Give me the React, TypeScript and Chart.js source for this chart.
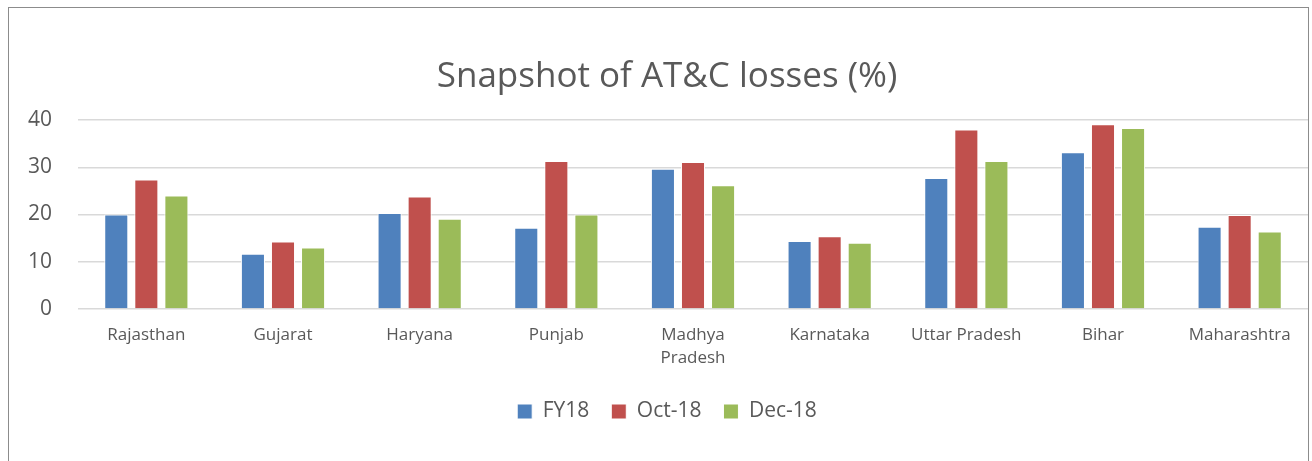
import React, { useEffect, useRef } from "react";
import { Chart, registerables } from "chart.js";

Chart.register(...registerables);

const categories: (string | string[])[] = [
  "Rajasthan",
  "Gujarat",
  "Haryana",
  "Punjab",
  ["Madhya", "Pradesh"],
  "Karnataka",
  "Uttar Pradesh",
  "Bihar",
  "Maharashtra",
];
const fy18 = [20.0, 11.7, 20.3, 17.2, 29.7, 14.4, 27.7, 33.2, 17.4];
const oct18 = [27.4, 14.3, 23.8, 31.3, 31.1, 15.4, 38.0, 39.1, 19.9];
const dec18 = [24.0, 13.0, 19.1, 20.0, 26.2, 14.0, 31.3, 38.3, 16.4];
const seriesNames = ["FY18", "Oct-18", "Dec-18"];
const yTicks = [0, 10, 20, 30, 40];

const FONT = "'Open Sans', 'Liberation Sans', sans-serif";
const TEXT = "#595959";

export default function App() {
  const ref = useRef<HTMLCanvasElement | null>(null);
  useEffect(() => {
    if (!ref.current) return;
    const colors = ["#4F81BD", "#C0504D", "#9BBB59"];
    const values = [fy18, oct18, dec18];
    const chart = new Chart(ref.current, {
      type: "bar",
      data: {
        labels: categories,
        datasets: values.map((v, i) => ({
          label: seriesNames[i],
          data: v,
          backgroundColor: colors[i],
          borderColor: "#ffffff",
          borderWidth: 1,
          categoryPercentage: 0.66,
          barPercentage: 0.8,
        })),
      },
      options: {
        animation: false,
        responsive: false,
        maintainAspectRatio: false,
        layout: { padding: { top: 40, left: 17, right: 0, bottom: 29 } },
        plugins: {
          title: {
            display: true,
            text: "Snapshot of AT&C losses (%)",
            color: TEXT,
            font: { family: FONT, size: 35, weight: "normal" },
            padding: { top: 8, bottom: 22 },
          },
          legend: {
            position: "bottom",
            labels: {
              color: TEXT,
              font: { family: FONT, size: 21 },
              boxWidth: 15,
              boxHeight: 15,
              padding: 22,
            },
          },
          tooltip: { enabled: false },
        },
        scales: {
          x: {
            grid: { display: false, drawTicks: false },
            border: { display: false },
            afterFit: (scale: any) => {
              scale.height = 70;
            },
            ticks: {
              color: TEXT,
              font: { family: FONT, size: 17, lineHeight: 1.35 },
              padding: 15,
              maxRotation: 0,
              autoSkip: false,
            },
          },
          y: {
            min: 0,
            max: 40,
            afterBuildTicks: (axis: any) => {
              axis.ticks = yTicks.map((v) => ({ value: v }));
            },
            afterFit: (scale: any) => {
              scale.width = 52;
            },
            grid: { color: "#d9d9d9", lineWidth: 1.5, drawTicks: false },
            border: { display: false },
            ticks: {
              color: TEXT,
              font: { family: FONT, size: 21 },
              padding: 26,
            },
          },
        },
      },
    });
    return () => chart.destroy();
  }, []);
  return (
    <div
      style={{
        position: "fixed",
        left: 8,
        top: 7,
        width: 1299,
        height: 470,
        border: "1px solid #8c8c8c",
        background: "#fff",
        overflow: "hidden",
      }}
    >
      <canvas ref={ref} width={1299} height={453} style={{ display: "block" }} />
    </div>
  );
}
